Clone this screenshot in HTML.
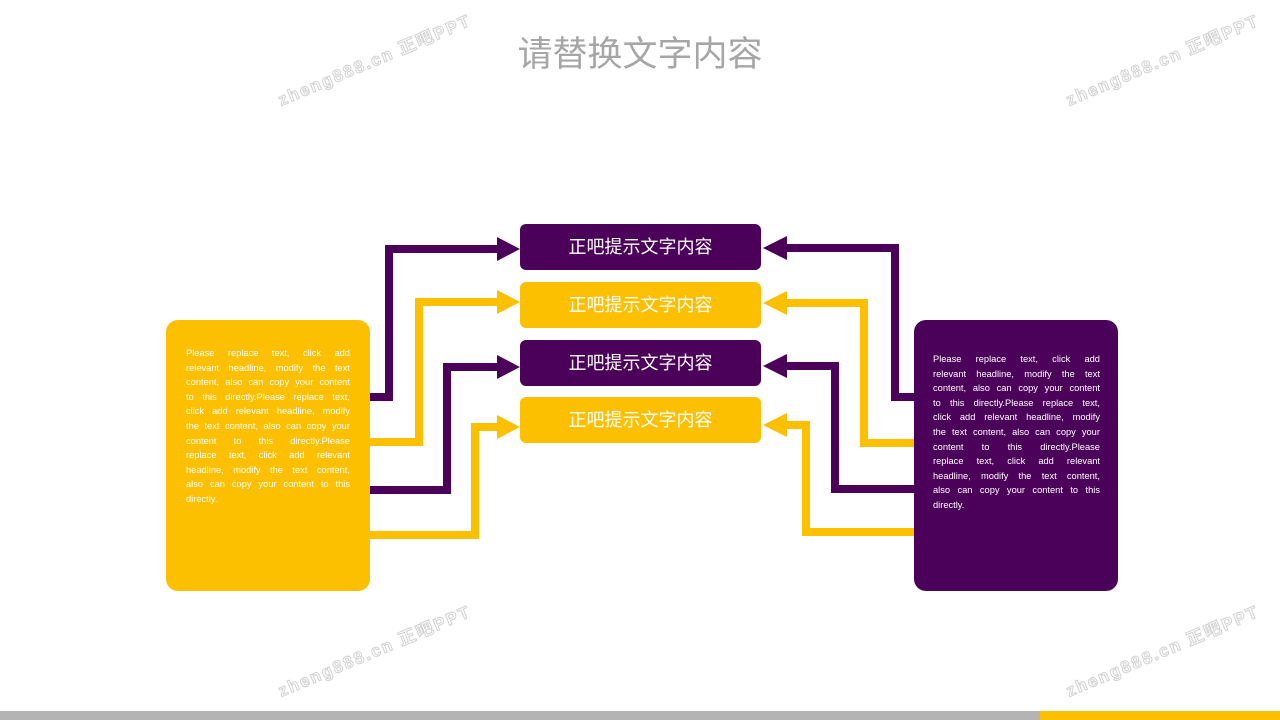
<!DOCTYPE html>
<html><head><meta charset="utf-8"><style>
*{margin:0;padding:0;box-sizing:border-box}
body{width:1280px;height:720px;background:#fff;position:relative;overflow:hidden;font-family:"Liberation Sans","Noto Sans CJK SC",sans-serif}
.title{position:absolute;left:0;width:1280px;top:26px;text-align:center;font-size:35px;color:#a6a6a6;font-family:"Liberation Sans","Noto Sans CJK SC",sans-serif}
.box{position:absolute;left:520px;width:241px;height:46px;border-radius:6px;color:#fff;font-size:18px;text-align:center;line-height:46px}
.p{background:#4b0059}.y{background:#fdc000}
.big{position:absolute;top:320px;width:204px;height:271px;border-radius:12px}
.txt{position:absolute;color:#fff;font-size:9.3px;line-height:14.6px}
.txt div{white-space:nowrap;display:flex;justify-content:space-between}
.txt div.l{justify-content:flex-start;gap:3px}
.wm{position:absolute;font-size:17px;font-weight:bold;color:#fff;-webkit-text-stroke:1px #d2d2d2;letter-spacing:2px;transform:rotate(-23deg);white-space:nowrap;font-family:"Liberation Sans","Noto Sans CJK SC",sans-serif}
</style></head><body>
<div class="wm" style="left:270px;top:46px">zheng888.cn 正吧PPT</div>
<div class="wm" style="left:1058px;top:46px">zheng888.cn 正吧PPT</div>
<div class="wm" style="left:270px;top:637px">zheng888.cn 正吧PPT</div>
<div class="wm" style="left:1058px;top:637px">zheng888.cn 正吧PPT</div>
<div class="title">请替换文字内容</div>

<svg style="position:absolute;left:0;top:0" width="1280" height="720">
<g fill="none" stroke-width="8" stroke-linejoin="miter">
<polyline points="370,397 389,397 389,249 498,249" stroke="#4b0059"/>
<polyline points="370,442 419,442 419,302 498,302" stroke="#fdc000"/>
<polyline points="370,490 447,490 447,367 498,367" stroke="#4b0059"/>
<polyline points="370,535 475,535 475,427 498,427" stroke="#fdc000"/>
<polyline points="914,397 895,397 895,248 786,248" stroke="#4b0059"/>
<polyline points="914,443 864,443 864,303 786,303" stroke="#fdc000"/>
<polyline points="914,489 835,489 835,366 786,366" stroke="#4b0059"/>
<polyline points="914,532 806,532 806,425 786,425" stroke="#fdc000"/>
</g>
<polygon points="497,237 520,249 497,261" fill="#4b0059"/>
<polygon points="497,290 520,302 497,314" fill="#fdc000"/>
<polygon points="497,355 520,367 497,379" fill="#4b0059"/>
<polygon points="497,415 520,427 497,439" fill="#fdc000"/>
<polygon points="787,236 763,248 787,260" fill="#4b0059"/>
<polygon points="787,291 763,303 787,315" fill="#fdc000"/>
<polygon points="787,354 763,366 787,378" fill="#4b0059"/>
<polygon points="787,413 763,425 787,437" fill="#fdc000"/>
</svg>

<div class="box p" style="top:224px">正吧提示文字内容</div>
<div class="box y" style="top:282px">正吧提示文字内容</div>
<div class="box p" style="top:340px">正吧提示文字内容</div>
<div class="box y" style="top:397px">正吧提示文字内容</div>

<div class="big y" style="left:166px"></div>
<div class="big p" style="left:914px"></div>

<div class="txt" style="left:186px;top:346px;width:164px">
<div><span>Please</span><span>replace</span><span>text,</span><span>click</span><span>add</span></div>
<div><span>relevant</span><span>headline,</span><span>modify</span><span>the</span><span>text</span></div>
<div><span>content,</span><span>also</span><span>can</span><span>copy</span><span>your</span><span>content</span></div>
<div><span>to</span><span>this</span><span>directly.Please</span><span>replace</span><span>text,</span></div>
<div><span>click</span><span>add</span><span>relevant</span><span>headline,</span><span>modify</span></div>
<div><span>the</span><span>text</span><span>content,</span><span>also</span><span>can</span><span>copy</span><span>your</span></div>
<div><span>content</span><span>to</span><span>this</span><span>directly.Please</span></div>
<div><span>replace</span><span>text,</span><span>click</span><span>add</span><span>relevant</span></div>
<div><span>headline,</span><span>modify</span><span>the</span><span>text</span><span>content,</span></div>
<div><span>also</span><span>can</span><span>copy</span><span>your</span><span>content</span><span>to</span><span>this</span></div>
<div class="l"><span>directly.</span></div>
</div>

<div class="txt" style="left:933px;top:352px;width:167px">
<div><span>Please</span><span>replace</span><span>text,</span><span>click</span><span>add</span></div>
<div><span>relevant</span><span>headline,</span><span>modify</span><span>the</span><span>text</span></div>
<div><span>content,</span><span>also</span><span>can</span><span>copy</span><span>your</span><span>content</span></div>
<div><span>to</span><span>this</span><span>directly.Please</span><span>replace</span><span>text,</span></div>
<div><span>click</span><span>add</span><span>relevant</span><span>headline,</span><span>modify</span></div>
<div><span>the</span><span>text</span><span>content,</span><span>also</span><span>can</span><span>copy</span><span>your</span></div>
<div><span>content</span><span>to</span><span>this</span><span>directly.Please</span></div>
<div><span>replace</span><span>text,</span><span>click</span><span>add</span><span>relevant</span></div>
<div><span>headline,</span><span>modify</span><span>the</span><span>text</span><span>content,</span></div>
<div><span>also</span><span>can</span><span>copy</span><span>your</span><span>content</span><span>to</span><span>this</span></div>
<div class="l"><span>directly.</span></div>
</div>

<div style="position:absolute;left:0;top:711px;width:1280px;height:9px;background:#b4b4b4"></div>
<div style="position:absolute;left:1040px;top:711px;width:240px;height:9px;background:#fdc000"></div>
</body></html>
